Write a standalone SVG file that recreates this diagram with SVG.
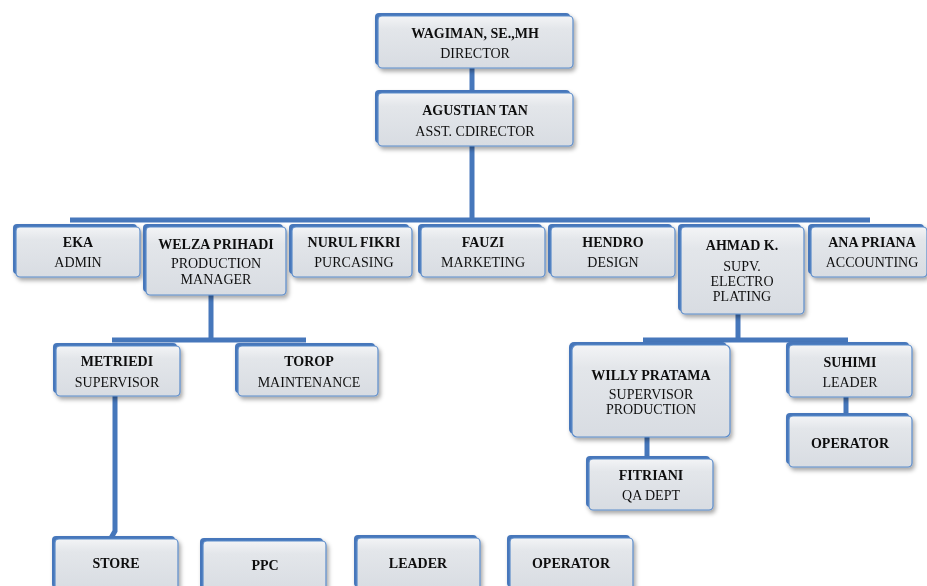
<svg xmlns="http://www.w3.org/2000/svg" width="927" height="586" viewBox="0 0 927 586">
<defs>
<linearGradient id="face" x1="0" y1="0" x2="0" y2="1">
<stop offset="0" stop-color="#f3f4f6"/>
<stop offset="0.25" stop-color="#e3e6ea"/>
<stop offset="1" stop-color="#d8dce2"/>
</linearGradient>
<filter id="sh" x="-10%" y="-10%" width="130%" height="140%">
<feDropShadow dx="2" dy="3" stdDeviation="2" flood-color="#000" flood-opacity="0.35"/>
</filter>
<style>
.back{fill:#4677bb;}
.front{fill:url(#face);stroke:#5b8bc9;stroke-width:1.2;}
.n{font-family:"Liberation Serif","Times New Roman",serif;font-size:14px;font-weight:bold;fill:#111;text-anchor:middle;}
.t{font-family:"Liberation Serif","Times New Roman",serif;font-size:14px;fill:#111;text-anchor:middle;}
.c{fill:none;stroke:#4677bb;stroke-width:5;}
</style>
</defs>
<rect width="927" height="586" fill="#fff"/>
<g id="connectors">
<path class="c" d="M472 66V92M472 144V221M70 220H870"/>
<path class="c" d="M211 293V340M112 340H306"/>
<path class="c" d="M738 311V340M643 340H848"/>
<path class="c" d="M647 434V459"/>
<path class="c" d="M846 395V416"/>
<path class="c" d="M115 394V531L111 538" stroke-width="4"/>
</g>
<g id="director" filter="url(#sh)">
<rect class="back" x="375" y="13" width="195" height="52" rx="4"/>
<rect class="front" x="378" y="16" width="195" height="52" rx="4"/>
<text class="n" x="475" y="38">WAGIMAN, SE.,MH</text>
<text class="t" x="475" y="58">DIRECTOR</text>
</g>
<g id="agustian" filter="url(#sh)">
<rect class="back" x="375" y="90" width="195" height="53" rx="4"/>
<rect class="front" x="378" y="93" width="195" height="53" rx="4"/>
<text class="n" x="475" y="115">AGUSTIAN TAN</text>
<text class="t" x="475" y="136">ASST. CDIRECTOR</text>
</g>
<g id="eka" filter="url(#sh)">
<rect class="back" x="13" y="224" width="124" height="50" rx="4"/>
<rect class="front" x="16" y="227" width="124" height="50" rx="4"/>
<text class="n" x="78" y="247">EKA</text>
<text class="t" x="78" y="267">ADMIN</text>
</g>
<g id="welza" filter="url(#sh)">
<rect class="back" x="143" y="224" width="140" height="68" rx="4"/>
<rect class="front" x="146" y="227" width="140" height="68" rx="4"/>
<text class="n" x="216" y="249">WELZA PRIHADI</text>
<text class="t" x="216" y="268">PRODUCTION</text>
<text class="t" x="216" y="284">MANAGER</text>
</g>
<g id="nurul" filter="url(#sh)">
<rect class="back" x="289" y="224" width="120" height="50" rx="4"/>
<rect class="front" x="292" y="227" width="120" height="50" rx="4"/>
<text class="n" x="354" y="247">NURUL FIKRI</text>
<text class="t" x="354" y="267">PURCASING</text>
</g>
<g id="fauzi" filter="url(#sh)">
<rect class="back" x="418" y="224" width="124" height="50" rx="4"/>
<rect class="front" x="421" y="227" width="124" height="50" rx="4"/>
<text class="n" x="483" y="247">FAUZI</text>
<text class="t" x="483" y="267">MARKETING</text>
</g>
<g id="hendro" filter="url(#sh)">
<rect class="back" x="548" y="224" width="124" height="50" rx="4"/>
<rect class="front" x="551" y="227" width="124" height="50" rx="4"/>
<text class="n" x="613" y="247">HENDRO</text>
<text class="t" x="613" y="267">DESIGN</text>
</g>
<g id="ahmad" filter="url(#sh)">
<rect class="back" x="678" y="224" width="123" height="87" rx="4"/>
<rect class="front" x="681" y="227" width="123" height="87" rx="4"/>
<text class="n" x="742" y="250">AHMAD K.</text>
<text class="t" x="742" y="271">SUPV.</text>
<text class="t" x="742" y="286">ELECTRO</text>
<text class="t" x="742" y="301">PLATING</text>
</g>
<g id="ana" filter="url(#sh)">
<rect class="back" x="808" y="224" width="116" height="50" rx="4"/>
<rect class="front" x="811" y="227" width="116" height="50" rx="4"/>
<text class="n" x="872" y="247">ANA  PRIANA</text>
<text class="t" x="872" y="267">ACCOUNTING</text>
</g>
<g id="metriedi" filter="url(#sh)">
<rect class="back" x="53" y="343" width="124" height="50" rx="4"/>
<rect class="front" x="56" y="346" width="124" height="50" rx="4"/>
<text class="n" x="117" y="366">METRIEDI</text>
<text class="t" x="117" y="387">SUPERVISOR</text>
</g>
<g id="torop" filter="url(#sh)">
<rect class="back" x="235" y="343" width="140" height="50" rx="4"/>
<rect class="front" x="238" y="346" width="140" height="50" rx="4"/>
<text class="n" x="309" y="366">TOROP</text>
<text class="t" x="309" y="387">MAINTENANCE</text>
</g>
<g id="willy" filter="url(#sh)">
<rect class="back" x="569" y="342" width="158" height="92" rx="5"/>
<rect class="front" x="572" y="345" width="158" height="92" rx="5"/>
<text class="n" x="651" y="380">WILLY PRATAMA</text>
<text class="t" x="651" y="399">SUPERVISOR</text>
<text class="t" x="651" y="414">PRODUCTION</text>
</g>
<g id="suhimi" filter="url(#sh)">
<rect class="back" x="786" y="342" width="123" height="52" rx="4"/>
<rect class="front" x="789" y="345" width="123" height="52" rx="4"/>
<text class="n" x="850" y="367">SUHIMI</text>
<text class="t" x="850" y="387">LEADER</text>
</g>
<g id="operator1" filter="url(#sh)">
<rect class="back" x="786" y="413" width="123" height="51" rx="4"/>
<rect class="front" x="789" y="416" width="123" height="51" rx="4"/>
<text class="n" x="850" y="448">OPERATOR</text>
</g>
<g id="fitriani" filter="url(#sh)">
<rect class="back" x="586" y="456" width="124" height="51" rx="4"/>
<rect class="front" x="589" y="459" width="124" height="51" rx="4"/>
<text class="n" x="651" y="480">FITRIANI</text>
<text class="t" x="651" y="500">QA DEPT</text>
</g>
<g id="store" filter="url(#sh)">
<rect class="back" x="52" y="536" width="123" height="52" rx="4"/>
<rect class="front" x="55" y="539" width="123" height="52" rx="4"/>
<text class="n" x="116" y="568">STORE</text>
</g>
<g id="ppc" filter="url(#sh)">
<rect class="back" x="200" y="538" width="123" height="52" rx="4"/>
<rect class="front" x="203" y="541" width="123" height="52" rx="4"/>
<text class="n" x="265" y="570">PPC</text>
</g>
<g id="leader" filter="url(#sh)">
<rect class="back" x="354" y="535" width="123" height="52" rx="4"/>
<rect class="front" x="357" y="538" width="123" height="52" rx="4"/>
<text class="n" x="418" y="568">LEADER</text>
</g>
<g id="operator2" filter="url(#sh)">
<rect class="back" x="507" y="535" width="123" height="52" rx="4"/>
<rect class="front" x="510" y="538" width="123" height="52" rx="4"/>
<text class="n" x="571" y="568">OPERATOR</text>
</g>
</svg>
